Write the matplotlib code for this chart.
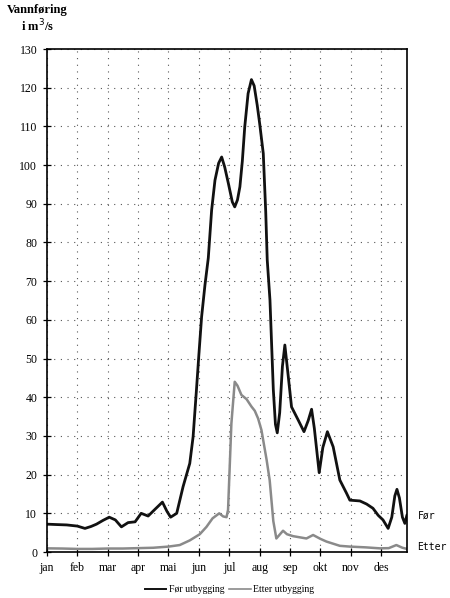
import matplotlib.pyplot as plt
from matplotlib.lines import Line2D

# --- data (month index, m3/s) ---
months = ["jan", "feb", "mar", "apr", "mai", "jun", "jul", "aug", "sep", "okt", "nov", "des"]

for_x = [0, 0.3, 0.65, 1.0, 1.25, 1.45, 1.63, 1.85, 2.05, 2.25, 2.45, 2.67, 2.9, 3.1,
         3.33, 3.55, 3.8, 3.95, 4.07, 4.27, 4.48, 4.7, 4.81, 4.92, 5.0, 5.09, 5.2, 5.31,
         5.42, 5.53, 5.65, 5.75, 5.85, 5.97, 6.1, 6.18, 6.27, 6.35, 6.43, 6.51, 6.62, 6.73,
         6.82, 6.92, 7.0, 7.12, 7.2, 7.25, 7.34, 7.45, 7.52, 7.58, 7.66, 7.75, 7.83, 7.92, 8.05,
         8.27, 8.46, 8.6, 8.71, 8.8, 8.96, 9.08, 9.23, 9.42, 9.64, 9.86, 9.97, 10.3,
         10.52, 10.73, 10.9, 11.06, 11.23, 11.35, 11.45, 11.52, 11.6, 11.7, 11.78, 11.85]
for_y = [7.2, 7.1, 7.0, 6.7, 6.1, 6.6, 7.2, 8.2, 9.0, 8.3, 6.5, 7.6, 7.8, 10.0,
         9.3, 11.0, 12.9, 10.5, 9.0, 10.0, 16.9, 22.9, 29.8, 41.9, 51.0, 60.8, 69.0, 76.0,
         88.4, 96.1, 100.5, 102.1, 99.5, 95.3, 90.5, 89.2, 91.0, 94.4, 101.0, 109.9, 118.5, 122.1,
         120.5, 115.5, 110.8, 103.0, 88.0, 75.5, 65.1, 42.0, 33.0, 30.8, 36.0, 48.0, 53.5, 47.0, 37.5,
         34.1, 31.1, 34.0, 36.9, 32.0, 20.5, 27.0, 31.1, 27.2, 18.6, 15.2, 13.4, 13.2,
         12.4, 11.3, 9.5, 8.3, 6.1, 9.0, 14.5, 16.2, 14.0, 9.0, 7.4, 9.6]

etter_x = [0, 0.5, 1.0, 1.5, 2.0, 2.5, 3.0, 3.5, 4.0, 4.37, 4.7, 5.03, 5.25, 5.45,
           5.67, 5.8, 5.91, 5.96, 6.07, 6.18, 6.27, 6.4, 6.57, 6.73, 6.84, 6.95, 7.06,
           7.23, 7.33, 7.45, 7.55, 7.66, 7.77, 7.9, 8.1, 8.54, 8.76, 9.0, 9.2, 9.64,
           9.97, 10.5, 10.95, 11.25, 11.5, 11.7, 11.85]
etter_y = [0.95, 0.9, 0.8, 0.8, 0.9, 0.9, 1.0, 1.1, 1.4, 1.8, 3.0, 4.6, 6.5, 8.7,
           10.0, 9.2, 9.0, 10.9, 33.2, 44.0, 43.0, 40.6, 39.5, 37.6, 36.5, 34.5, 31.5,
           23.8, 18.6, 8.0, 3.5, 4.5, 5.5, 4.6, 4.1, 3.5, 4.4, 3.4, 2.7, 1.6,
           1.4, 1.2, 0.95, 1.0, 1.8, 1.1, 0.8]

plt.rcParams['font.family'] = ['Liberation Serif', 'DejaVu Serif']

fig = plt.figure(figsize=(4.5, 5.98), dpi=100)
ax = fig.add_axes([0.1044, 0.0769, 0.80, 0.8411])

ax.plot(for_x, for_y, color='#111111', linewidth=2.0, solid_capstyle='round', solid_joinstyle='round')
ax.plot(etter_x, etter_y, color='#8a8a8a', linewidth=1.8, solid_capstyle='round', solid_joinstyle='round')

ax.set_xlim(0, 11.85)
ax.set_ylim(0, 130)
ax.set_xticks(range(12))
ax.set_xticklabels(months)
ax.set_yticks(range(0, 131, 10))

ax.grid(True, color='#555555', linestyle=(0, (1, 5)), linewidth=0.8)
ax.tick_params(direction='inout', length=6, width=0.9, labelsize=8.5, pad=4)
for s in ax.spines.values():
    s.set_linewidth(1.2)
    s.set_color('black')

# end labels
ax.text(12.2, 9.5, "Før", family='DejaVu Sans Mono', fontsize=7, va='center', clip_on=False)
ax.text(12.2, 1.2, "Etter", family='DejaVu Sans Mono', fontsize=7, va='center', clip_on=False)

# y axis title
fig.text(0.083, 0.984, "Vannføring", fontsize=9, fontweight='bold', ha='center', va='center')
fig.text(0.083, 0.956, "i m$^3$/s", fontsize=9, fontweight='bold', ha='center', va='center')

# legend
handles = [Line2D([], [], color='#111111', linewidth=1.4),
           Line2D([], [], color='#8a8a8a', linewidth=1.2)]
fig.legend(handles, ["Før utbygging", "Etter utbygging"], loc='center',
           bbox_to_anchor=(0.51, 0.014), ncol=2, frameon=False, fontsize=7,
           handlelength=2.2, handletextpad=0.3, columnspacing=0.5)

plt.savefig("out.png", dpi=100)
